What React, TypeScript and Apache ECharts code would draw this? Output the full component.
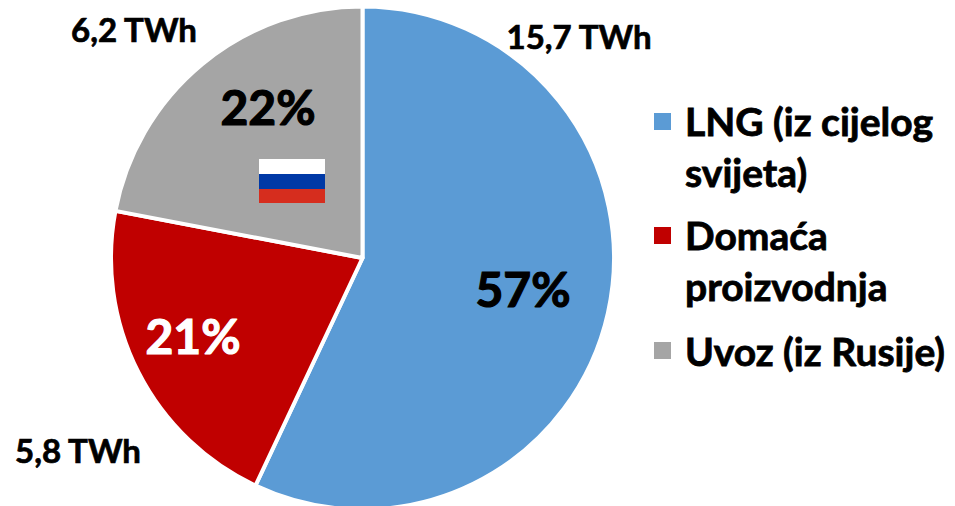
import React, { useEffect, useRef } from "react";
import * as echarts from "echarts";

const categories = ["LNG (iz cijelog svijeta)", "Domaća proizvodnja", "Uvoz (iz Rusije)"];
const legendLines = ["LNG (iz cijelog\nsvijeta)", "Domaća\nproizvodnja", "Uvoz (iz Rusije)"];
const shares = [57, 21, 22];
const twhLabels = ["15,7 TWh", "5,8 TWh", "6,2 TWh"];
const percents = ["57%", "21%", "22%"];
const colors = ["#5B9BD5", "#C00000", "#A5A5A5"];
const percentColors = ["#000000", "#FFFFFF", "#000000"];
const percentPos = [[523, 288], [193, 335], [268, 106]];
const twhPos = [[579, 36], [78, 450], [134, 29]];
const legendTops = [96, 210, 315];
const FONT = "Lato";

const TOP_ICON = "path://M0 0H19V19H0Z M0 69L0 69";
const MID_ICON = "path://M0 0L0 0 M0 25H19V44H0Z M0 69L0 69";

export default function App() {
  const ref = useRef<HTMLDivElement>(null);
  useEffect(() => {
    const chart = echarts.init(ref.current!, null, { renderer: "svg" });
    const pieBase = {
      type: "pie",
      center: [362.5, 258],
      radius: [0, 251.5],
      startAngle: 90,
      clockwise: true,
      silent: true,
      avoidLabelOverlap: false,
      labelLine: { show: false },
      emphasis: { disabled: true },
    };
    chart.setOption({
      animation: false,
      backgroundColor: "#FFFFFF",
      legend: categories.map((c, i) => ({
        show: true,
        orient: "vertical",
        left: 652,
        top: legendTops[i],
        padding: 0,
        selectedMode: false,
        itemWidth: 19,
        itemHeight: 69,
        itemGap: 0,
        data: [{ name: c, icon: i < 2 ? TOP_ICON : MID_ICON }],
        formatter: () => legendLines[i],
        textStyle: {
          fontFamily: FONT,
          fontWeight: "bold",
          fontSize: 39,
          lineHeight: 50.5,
          color: "#000000",
          padding: [0, 0, 0, 8],
          textBorderColor: "#000000",
          textBorderWidth: 0.8,
        },
      })),
      graphic: [
        { type: "rect", z: 10, shape: { x: 259, y: 159, width: 66, height: 15 }, style: { fill: "#FFFFFF" } },
        { type: "rect", z: 10, shape: { x: 259, y: 174, width: 66, height: 15 }, style: { fill: "#0039A6" } },
        { type: "rect", z: 10, shape: { x: 259, y: 189, width: 66, height: 14 }, style: { fill: "#D62D1E" } },
      ],
      series: [
        {
          ...pieBase,
          itemStyle: { borderColor: "#FFFFFF", borderWidth: 4 },
          data: categories.map((name, i) => ({
            name,
            value: shares[i],
            itemStyle: { color: colors[i] },
            label: {
              show: true,
              position: "inside",
              formatter: percents[i],
              fontFamily: FONT,
              fontWeight: "bold",
              fontSize: 48,
              color: percentColors[i],
              textBorderColor: percentColors[i],
              textBorderWidth: 1.2,
            },
          })),
          labelLayout: (p: any) => ({ x: percentPos[p.dataIndex][0], y: percentPos[p.dataIndex][1], align: "center", verticalAlign: "middle" }),
        },
        {
          ...pieBase,
          itemStyle: { color: "transparent", borderWidth: 0 },
          data: categories.map((name, i) => ({
            name,
            value: shares[i],
            label: {
              show: true,
              position: "outside",
              formatter: twhLabels[i],
              fontFamily: FONT,
              fontWeight: "bold",
              fontSize: 33,
              color: "#000000",
              textBorderColor: "#000000",
              textBorderWidth: 0.7,
            },
          })),
          labelLayout: (p: any) => ({ x: twhPos[p.dataIndex][0], y: twhPos[p.dataIndex][1], align: "center", verticalAlign: "middle" }),
        },
      ],
    });
    return () => chart.dispose();
  }, []);
  return <div ref={ref} style={{ position: "fixed", left: 0, top: 0, width: 955, height: 506 }} />;
}
